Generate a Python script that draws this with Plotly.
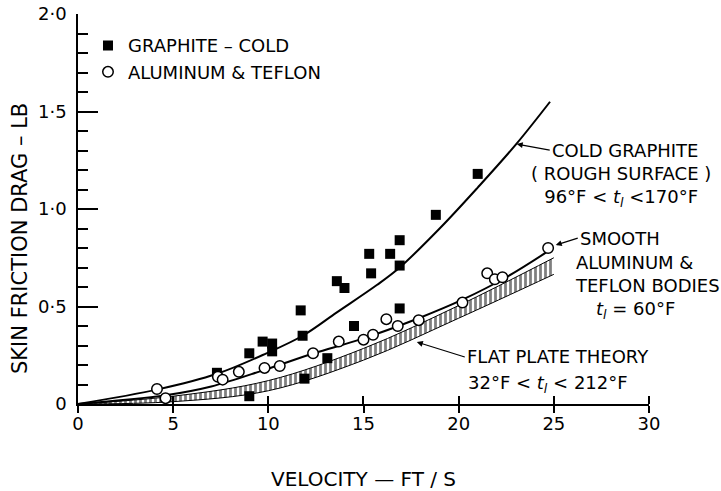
import plotly.graph_objects as go

# ---------------- data ----------------
graphite_v = [7.3, 9.0, 9.0, 9.7, 10.2, 10.2, 11.7, 11.8, 11.9, 13.1, 13.6, 14.0, 14.5,
              15.3, 15.4, 16.4, 16.9, 16.9, 16.9, 18.8, 21.0]
graphite_d = [0.16, 0.26, 0.04, 0.32, 0.31, 0.27, 0.48, 0.35, 0.13, 0.235, 0.63, 0.595, 0.40,
              0.77, 0.67, 0.77, 0.84, 0.71, 0.49, 0.97, 1.18]

aluminum_v = [4.15, 4.6, 7.35, 7.6, 8.45, 9.8, 10.6, 12.35, 13.7, 15.0, 15.5, 16.2, 16.8,
              17.9, 20.2, 21.5, 21.9, 22.3, 24.7]
aluminum_d = [0.077, 0.03, 0.14, 0.125, 0.165, 0.185, 0.195, 0.26, 0.32, 0.33, 0.355, 0.435, 0.40,
              0.43, 0.52, 0.67, 0.64, 0.65, 0.80]

graphite_curve_v = [0, 4.2, 7.3, 9.9, 11.8, 13.6, 15.7, 16.9, 19.0, 21.0, 23.0, 24.8]
graphite_curve_d = [0, 0.075, 0.155, 0.26, 0.35, 0.47, 0.61, 0.70, 0.90, 1.11, 1.33, 1.55]

smooth_curve_v = [0, 4.6, 7.0, 9.8, 12.4, 14.8, 17.9, 20.2, 22.5, 24.8]
smooth_curve_d = [0, 0.045, 0.09, 0.175, 0.26, 0.33, 0.44, 0.535, 0.65, 0.79]

flat_v = [0, 5, 10, 15, 20, 25]
flat_hi = [0, 0.04, 0.12, 0.285, 0.505, 0.75]
flat_lo = [0, 0.012, 0.068, 0.225, 0.44, 0.665]

x_ticks = [0, 5, 10, 15, 20, 25, 30]
x_tick_labels = ["0", "5", "10", "15", "20", "25", "30"]
y_ticks = [0, 0.5, 1.0, 1.5, 2.0]
y_tick_labels = ["0", "0·5", "1·0", "1·5", "2·0"]

FONT = "DejaVu Sans"
TL = "<i>t</i><sub><i>l</i></sub>"

fig = go.Figure()

# flat plate theory band (hatched)
fig.add_trace(go.Scatter(x=flat_v, y=flat_lo, mode="lines",
                         line=dict(color="black", width=1, shape="spline"),
                         showlegend=False, hoverinfo="skip", cliponaxis=False))
fig.add_trace(go.Scatter(x=flat_v, y=flat_hi, mode="lines",
                         line=dict(color="black", width=1, shape="spline"),
                         fill="tonexty", fillcolor="white",
                         fillpattern=dict(shape="|", fgcolor="black", bgcolor="white",
                                          size=5, solidity=0.55),
                         showlegend=False, hoverinfo="skip", cliponaxis=False))

# fitted curves
fig.add_trace(go.Scatter(x=graphite_curve_v, y=graphite_curve_d, mode="lines",
                         line=dict(color="black", width=2, shape="spline"),
                         showlegend=False, cliponaxis=False))
fig.add_trace(go.Scatter(x=smooth_curve_v, y=smooth_curve_d, mode="lines",
                         line=dict(color="black", width=2, shape="spline"),
                         showlegend=False, cliponaxis=False))

# data points
fig.add_trace(go.Scatter(x=graphite_v, y=graphite_d, mode="markers",
                         name="GRAPHITE – COLD",
                         marker=dict(symbol="square", size=10, color="black",
                                     line=dict(width=0)),
                         cliponaxis=False))
fig.add_trace(go.Scatter(x=aluminum_v, y=aluminum_d, mode="markers",
                         name="ALUMINUM &amp; TEFLON",
                         marker=dict(symbol="circle", size=10.5, color="white",
                                     line=dict(width=1.5, color="black")),
                         cliponaxis=False))

ARROW = dict(showarrow=True, arrowhead=2, arrowsize=1, arrowwidth=1.2,
             arrowcolor="black", xanchor="left", yanchor="middle")

annotations = [
    dict(x=23.05, y=1.333, ax=33, ay=6, text="COLD GRAPHITE", **ARROW),
    dict(x=28.55, y=1.115, xanchor="center", yanchor="middle", showarrow=False, align="center",
         text="( ROUGH SURFACE )<br>96°F &lt; " + TL + " &lt;170°F"),
    dict(x=25.1, y=0.815, ax=22, ay=-7, text="SMOOTH", **ARROW),
    dict(x=26.0, y=0.666, xanchor="left", yanchor="middle", showarrow=False, align="left",
         text="ALUMINUM &amp;<br>TEFLON BODIES"),
    dict(x=29.27, y=0.48, xanchor="center", yanchor="middle", showarrow=False,
         text=TL + " = 60°F"),
    dict(x=17.8, y=0.318, ax=48, ay=15, text="FLAT PLATE THEORY", **ARROW),
    dict(x=20.4, y=0.105, xanchor="left", yanchor="middle", showarrow=False,
         text="32°F &lt; " + TL + " &lt; 212°F"),
    # y axis title
    dict(xref="paper", yref="paper", x=-0.1016, y=0.4256, xanchor="center", yanchor="middle",
         showarrow=False, textangle=-90, font=dict(size=21),
         text="SKIN FRICTION DRAG – LB"),
]

fig.update_layout(
    width=721, height=491,
    margin=dict(l=78, r=72, t=14, b=87, autoexpand=False),
    paper_bgcolor="white", plot_bgcolor="white",
    font=dict(family=FONT, size=18, color="black"),
    showlegend=True,
    legend=dict(x=0.0175, y=0.966, xanchor="left", yanchor="top", traceorder="normal",
                bgcolor="rgba(0,0,0,0)", font=dict(size=18), tracegroupgap=0),
    xaxis=dict(range=[0, 30], showgrid=False, zeroline=False, automargin=False,
               showline=True, linecolor="black", linewidth=1.5,
               tickmode="array", tickvals=x_ticks, ticktext=x_tick_labels,
               ticks="outside", ticklen=7, tickwidth=1.5, tickcolor="black",
               minor=dict(tickmode="array",
                          tickvals=[4.999, 9.999, 14.999, 19.999, 24.999, 29.999],
                          ticks="inside", ticklen=8, tickwidth=1.5, tickcolor="black",
                          showgrid=False),
               ticklabelstandoff=-4,
               title=dict(text="VELOCITY — FT / S", font=dict(size=20), standoff=43)),
    yaxis=dict(range=[0, 2.0], showgrid=False, zeroline=False, automargin=False,
               showline=True, linecolor="black", linewidth=1.5,
               tickmode="array", tickvals=y_ticks, ticktext=y_tick_labels,
               ticks="inside", ticklen=20, tickwidth=1.5, tickcolor="black",
               minor=dict(dtick=0.1, tick0=0, ticks="inside", ticklen=10,
                          tickwidth=1.5, tickcolor="black", showgrid=False),
               ticklabelstandoff=6),
    annotations=annotations,
)

fig.write_html("out.html")
